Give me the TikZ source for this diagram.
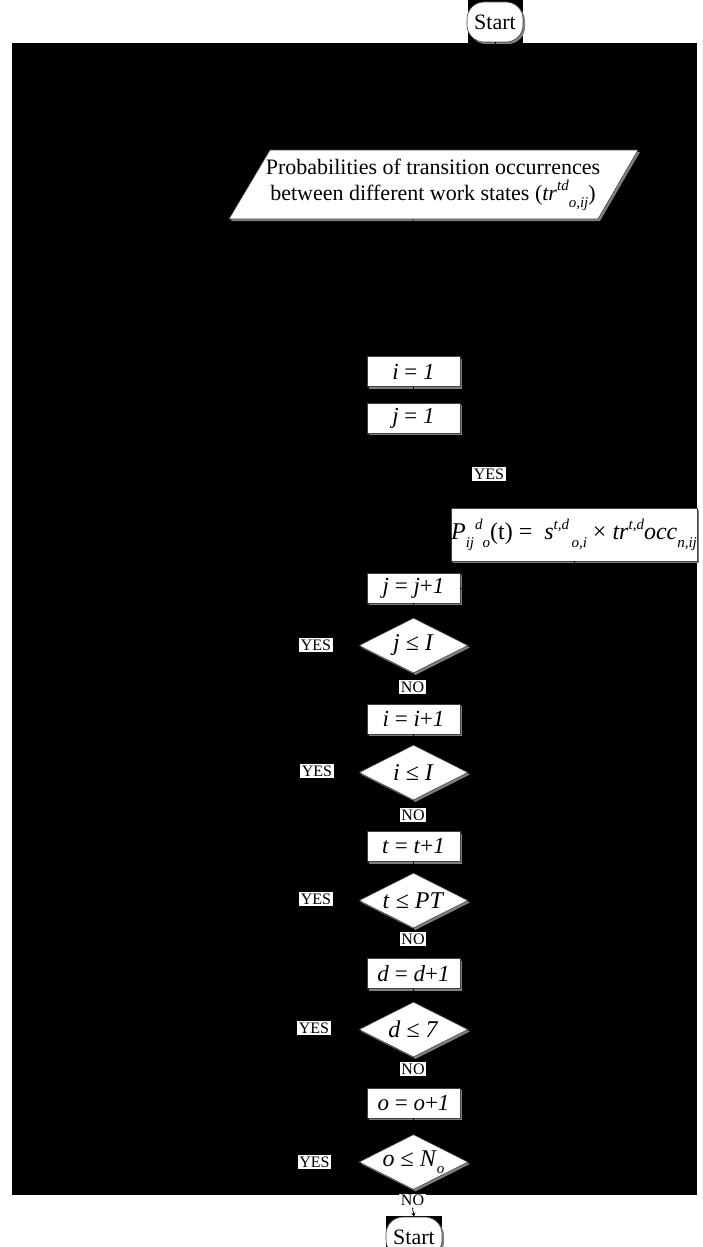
\documentclass[tikz,border=0pt]{standalone}
\usepackage{fontspec}
\setmainfont{Liberation Serif}
\usetikzlibrary{shadows,shapes.geometric,arrows.meta}

% raised / lowered italic indices for the formulas
\newcommand\myhi[1]{\raisebox{0.45em}{\fontsize{15}{15}\selectfont\itshape #1}}
\newcommand\mylo[1]{\raisebox{-0.3em}{\fontsize{15}{15}\selectfont\itshape #1}}

\tikzset{
  shade/.style={drop shadow={shadow xshift=2pt,shadow yshift=-2pt,fill=black!50,opacity=1}},
  edgeline/.style={draw=black!75,line width=0.6pt},
  terminal/.style={rectangle,rounded corners=17pt,edgeline,fill=white,shade,
    minimum width=56pt,minimum height=40pt,inner sep=0pt,font=\fontsize{22}{24}\selectfont},
  procbox/.style={rectangle,edgeline,fill=white,shade,minimum width=93pt,
    minimum height=30pt,inner sep=0pt,font=\fontsize{23}{25}\selectfont},
  decision/.style={diamond,edgeline,fill=white,shade,minimum width=109pt,
    minimum height=55pt,inner sep=0pt,aspect=2,font=\fontsize{24}{26}\selectfont},
  tag/.style={fill=white,inner sep=1.5pt,font=\fontsize{16}{17}\selectfont},
  flow/.style={draw=black,line width=0.8pt},
}

\begin{document}
\begin{tikzpicture}[x=1pt,y=-1pt]
\useasboundingbox (0,0) rectangle (702,1247);

% dark backdrops
\fill[black] (12,43) rectangle (697,1195);
\fill[black] (468,0) rectangle (523,43);
\fill[black] (386,1216) rectangle (442,1247);

% start terminal
\node[terminal] (start1) at (495,22) {Start};

% input parallelogram
\fill[black!50] (272,152) -- (640,152) -- (600,221) -- (231,221) -- cycle;
\filldraw[fill=white,edgeline] (270,150) -- (638,150) -- (598,219) -- (229,219) -- cycle;
\coordinate (paraout) at (413,219);
\node[align=center,font=\fontsize{22}{26}\selectfont] (para) at (433,185)
  {Probabilities of transition occurrences\\
   between different work states (\textit{tr}\myhi{td}\mylo{o,ij})};

% loop initialisation
\node[procbox] (iinit) at (413.5,371.5) {\textit{i} = \textit{1}};
\node[procbox] (jinit) at (413.5,418) {\textit{j} = \textit{1}};

% probability computation
\node[tag] (yes0) at (489,474) {YES};
\node[rectangle,edgeline,fill=white,shade,minimum width=244pt,minimum height=53pt,
      inner sep=0pt,font=\fontsize{24}{26}\selectfont] (prob) at (574,534.5)
  {\textit{P}\mylo{ij}\kern1pt\myhi{d}\mylo{o}(t) = \ \textit{s}\myhi{t,d}\mylo{\,o,i} ×
   \textit{tr}\myhi{t,d}\textit{occ}\mylo{n,ij}};

% counters and tests
\node[procbox] (jinc) at (413.5,588) {\textit{j} = \textit{j}+\textit{1}};
\node[decision] (jtest) at (413.5,645.5) {\textit{j} ≤ \textit{I}};
\node[tag] (yes1) at (316,645) {YES};
\node[tag] (no1) at (412.5,687) {NO};

\node[procbox] (iinc) at (413.5,719) {\textit{i} = \textit{i}+\textit{1}};
\node[decision] (itest) at (413.5,772.5) {\textit{i} ≤ \textit{I}};
\node[tag] (yes2) at (317,771) {YES};
\node[tag] (no2) at (413,815) {NO};

\node[procbox] (tinc) at (413.5,846.5) {\textit{t} = \textit{t}+\textit{1}};
\node[decision] (ttest) at (413.5,900.5) {\textit{t} ≤ \textit{PT}};
\node[tag] (yes3) at (316,899) {YES};
\node[tag] (no3) at (413,939) {NO};

\node[procbox] (dinc) at (413.5,973.5) {\textit{d} = \textit{d}+\textit{1}};
\node[decision] (dtest) at (413.5,1029.5) {\textit{d} ≤ \textit{7}};
\node[tag] (yes4) at (314,1028) {YES};
\node[tag] (no4) at (413,1069) {NO};

\node[procbox] (oinc) at (413.5,1103) {\textit{o} = \textit{o}+\textit{1}};
\node[decision] (otest) at (413.5,1162) {\textit{o} ≤ \textit{N}\mylo{o}};
\node[tag] (yes5) at (314.5,1162) {YES};
\node[tag] (no5) at (412.5,1200.5) {NO};

% end terminal
\node[terminal] (start2) at (414,1237) {Start};

% connectors
\draw[flow] (start1.south) -- ++(0,6);
\draw[flow] (paraout) -- (iinit.north);
\draw[flow] (iinit.south) -- (jinit.north);
\draw[flow] (prob.south) |- (jinc.east);
\draw[flow] (jinc.south) -- (jtest.north);
\draw[flow] (jtest.west) -- (yes1.east);
\draw[flow] (jtest.south) -- (no1.north);
\draw[flow] (no1.south) -- (iinc.north);
\draw[flow] (iinc.south) -- (itest.north);
\draw[flow] (itest.west) -- (yes2.east);
\draw[flow] (itest.south) -- (no2.north);
\draw[flow] (no2.south) -- (tinc.north);
\draw[flow] (tinc.south) -- (ttest.north);
\draw[flow] (ttest.west) -- (yes3.east);
\draw[flow] (ttest.south) -- (no3.north);
\draw[flow] (no3.south) -- (dinc.north);
\draw[flow] (dinc.south) -- (dtest.north);
\draw[flow] (dtest.west) -- (yes4.east);
\draw[flow] (dtest.south) -- (no4.north);
\draw[flow] (no4.south) -- (oinc.north);
\draw[flow] (oinc.south) -- (otest.north);
\draw[flow] (otest.west) -- (yes5.east);
\draw[flow] (otest.south) -- (no5.north);
\draw[flow,-{Stealth[length=4pt,width=4pt]}] (no5.south) -- (start2.north);
\end{tikzpicture}
\end{document}
